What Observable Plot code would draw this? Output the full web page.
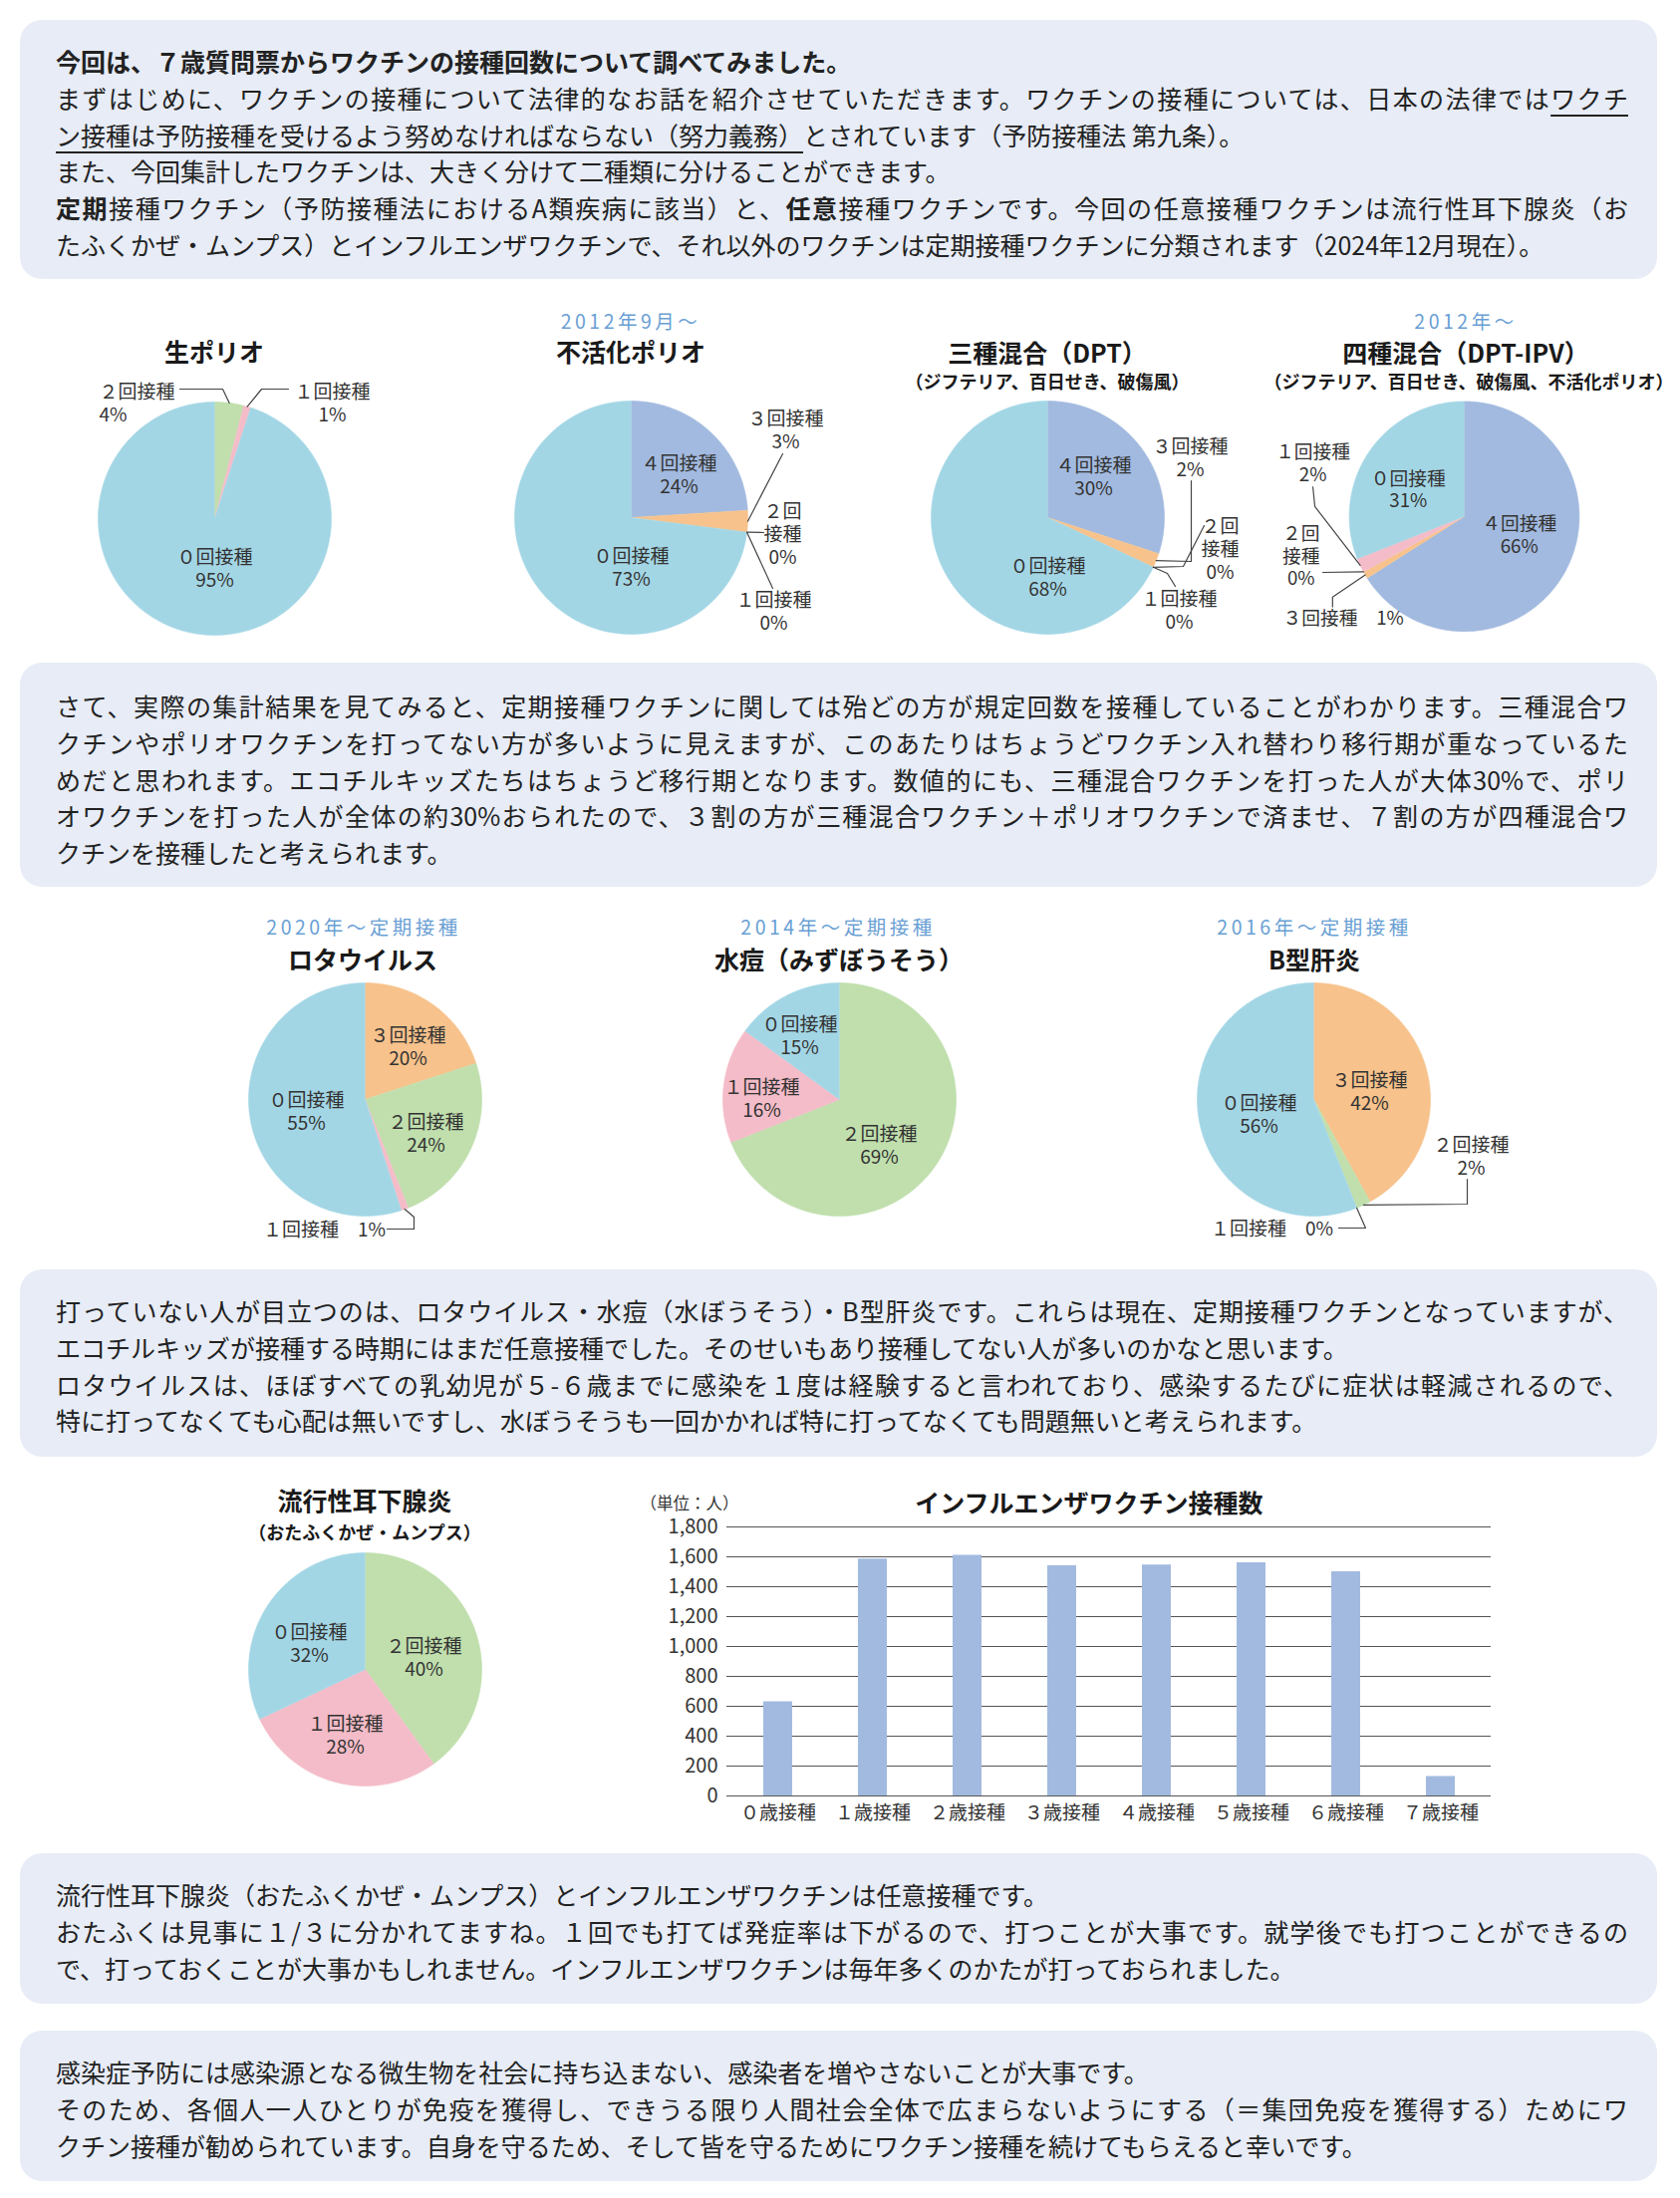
<!DOCTYPE html>
<html lang="ja"><head><meta charset="utf-8">
<script src="https://cdn.jsdelivr.net/npm/d3@7"></script>
<script src="https://cdn.jsdelivr.net/npm/@observablehq/plot@0.6"></script>
<style>
body{margin:0;background:#fff;font-family:"Noto Sans CJK JP","Noto Sans",sans-serif;color:#222;}
#page{position:relative;width:1686px;height:2206px;overflow:hidden;background:#fff;}
.box{position:absolute;left:20px;width:1643px;background:#e7ecf6;border-radius:22px;box-sizing:border-box;padding:23px 0 0 36px;font-size:25px;line-height:36.8px;}
.box .ln{width:1578px;}
.box .full{text-align:justify;text-align-last:justify;}
.ul{text-decoration:underline;text-underline-offset:6px;text-decoration-thickness:1.5px;}
.lbl{position:absolute;transform:translate(-50%,-50%);white-space:nowrap;line-height:1;}
.blue{color:#6a9fd4;font-size:19.5px;letter-spacing:3.5px;}
.ttl{font-weight:bold;font-size:25px;color:#1a1a1a;}
.sub{font-weight:bold;font-size:18px;color:#1a1a1a;}
.unit{font-size:16.5px;color:#333;}
.chart{position:absolute;}
.chart svg{display:block;}
</style></head>
<body><div id="page">
<div class="box" style="top:20px;height:260px;">
<div class="ln" style="font-weight:bold;">今回は、７歳質問票からワクチンの接種回数について調べてみました。</div>
<div class="ln full">まずはじめに、ワクチンの接種について法律的なお話を紹介させていただきます。ワクチンの接種については、日本の法律では<span class="ul">ワクチ</span></div>
<div class="ln"><span class="ul">ン接種は予防接種を受けるよう努めなければならない（努力義務）</span>とされています（予防接種法 第九条）。</div>
<div class="ln">また、今回集計したワクチンは、大きく分けて二種類に分けることができます。</div>
<div class="ln full"><b>定期</b>接種ワクチン（予防接種法におけるA類疾病に該当）と、<b>任意</b>接種ワクチンです。今回の任意接種ワクチンは流行性耳下腺炎（お</div>
<div class="ln">たふくかぜ・ムンプス）とインフルエンザワクチンで、それ以外のワクチンは定期接種ワクチンに分類されます（2024年12月現在）。</div>
</div>
<div class="box" style="top:665px;height:225px;padding-top:25px;">
<div class="ln full">さて、実際の集計結果を見てみると、定期接種ワクチンに関しては殆どの方が規定回数を接種していることがわかります。三種混合ワ</div>
<div class="ln full">クチンやポリオワクチンを打ってない方が多いように見えますが、このあたりはちょうどワクチン入れ替わり移行期が重なっているた</div>
<div class="ln full">めだと思われます。エコチルキッズたちはちょうど移行期となります。数値的にも、三種混合ワクチンを打った人が大体30%で、ポリ</div>
<div class="ln full">オワクチンを打った人が全体の約30%おられたので、３割の方が三種混合ワクチン＋ポリオワクチンで済ませ、７割の方が四種混合ワ</div>
<div class="ln">クチンを接種したと考えられます。</div>
</div>
<div class="box" style="top:1274px;height:188px;">
<div class="ln full">打っていない人が目立つのは、ロタウイルス・水痘（水ぼうそう）・B型肝炎です。これらは現在、定期接種ワクチンとなっていますが、</div>
<div class="ln">エコチルキッズが接種する時期にはまだ任意接種でした。そのせいもあり接種してない人が多いのかなと思います。</div>
<div class="ln full">ロタウイルスは、ほぼすべての乳幼児が５-６歳までに感染を１度は経験すると言われており、感染するたびに症状は軽減されるので、</div>
<div class="ln">特に打ってなくても心配は無いですし、水ぼうそうも一回かかれば特に打ってなくても問題無いと考えられます。</div>
</div>
<div class="box" style="top:1860px;height:151px;">
<div class="ln">流行性耳下腺炎（おたふくかぜ・ムンプス）とインフルエンザワクチンは任意接種です。</div>
<div class="ln full">おたふくは見事に１/３に分かれてますね。１回でも打てば発症率は下がるので、打つことが大事です。就学後でも打つことができるの</div>
<div class="ln">で、打っておくことが大事かもしれません。インフルエンザワクチンは毎年多くのかたが打っておられました。</div>
</div>
<div class="box" style="top:2038px;height:151px;">
<div class="ln">感染症予防には感染源となる微生物を社会に持ち込まない、感染者を増やさないことが大事です。</div>
<div class="ln full">そのため、各個人一人ひとりが免疫を獲得し、できうる限り人間社会全体で広まらないようにする（＝集団免疫を獲得する）ためにワ</div>
<div class="ln">クチン接種が勧められています。自身を守るため、そして皆を守るためにワクチン接種を続けてもらえると幸いです。</div>
</div>
</div>
<script>
// ===== DATA =====
const doseOrder = ["０回接種", "１回接種", "２回接種", "３回接種", "４回接種"];
const doseColors = ["#a3d6e5", "#f4bcc8", "#c0dfad", "#f7c28b", "#a2badf"];

const livePolioCats = ["２回接種", "１回接種", "０回接種"];
const livePolioVals = [4, 1, 95];

const ipvCats = ["４回接種", "３回接種", "２回接種", "１回接種", "０回接種"];
const ipvVals = [24, 3, 0, 0, 73];

const dptCats = ["４回接種", "３回接種", "２回接種", "１回接種", "０回接種"];
const dptVals = [30, 2, 0, 0, 68];

const dptIpvCats = ["４回接種", "３回接種", "２回接種", "１回接種", "０回接種"];
const dptIpvVals = [66, 1, 0, 2, 31];

const rotaCats = ["３回接種", "２回接種", "１回接種", "０回接種"];
const rotaVals = [20, 24, 1, 55];

const varicellaCats = ["２回接種", "１回接種", "０回接種"];
const varicellaVals = [69, 16, 15];

const hepBCats = ["３回接種", "２回接種", "１回接種", "０回接種"];
const hepBVals = [42, 2, 0, 56];

const mumpsCats = ["２回接種", "１回接種", "０回接種"];
const mumpsVals = [40, 28, 32];

const fluAges = ["０歳接種", "１歳接種", "２歳接種", "３歳接種", "４歳接種", "５歳接種", "６歳接種", "７歳接種"];
const fluCounts = [630, 1585, 1610, 1540, 1545, 1560, 1500, 130];
const fluTicks = [0, 200, 400, 600, 800, 1000, 1200, 1400, 1600, 1800];

// ===== LAYOUT =====
const page = document.getElementById("page");
const FONT = '"Noto Sans CJK JP", "Noto Sans", sans-serif';
const W = 440, H = 320, R = 117;

function place(text, cx, cy, cls) {
  const d = document.createElement("div");
  d.className = "lbl " + cls;
  d.textContent = text;
  d.style.left = cx + "px";
  d.style.top = cy + "px";
  page.appendChild(d);
}

function pieChart(cats, vals, cx, cy, hints) {
  const total = d3.sum(vals);
  let acc = 0;
  const slices = cats.map((cat, i) => {
    const a0 = acc / total * 2 * Math.PI; acc += vals[i];
    const a1 = acc / total * 2 * Math.PI;
    return {cat, value: vals[i], a0, a1, mid: (a0 + a1) / 2};
  });
  const polys = slices.filter(s => s.value > 0).flatMap(s => {
    const n = Math.max(2, Math.ceil((s.a1 - s.a0) * 180 / Math.PI));
    const pts = [{cat: s.cat, x: 0, y: 0}];
    for (let k = 0; k <= n; k++) {
      const a = s.a0 + (s.a1 - s.a0) * k / n;
      pts.push({cat: s.cat, x: R * Math.sin(a), y: -R * Math.cos(a)});
    }
    return pts;
  });
  const labels = slices.map(s => {
    const h = hints[s.cat] || {};
    const pct = s.value + "%";
    const text = h.split ? s.cat.slice(0, 2) + "\n" + s.cat.slice(2) + "\n" + pct
      : h.inline ? s.cat + "　" + pct : s.cat + "\n" + pct;
    return {text, x: h.dx ?? 0.5 * R * Math.sin(s.mid), y: h.dy ?? -0.5 * R * Math.cos(s.mid), anchor: h.anchor || "middle"};
  });
  const leaders = slices.filter(s => hints[s.cat] && hints[s.cat].leader).flatMap(s => [
    {id: s.cat, x: R * Math.sin(s.mid), y: -R * Math.cos(s.mid)},
    ...hints[s.cat].leader.map(([x, y]) => ({id: s.cat, x, y}))
  ]);
  const svg = Plot.plot({
    width: W, height: H, margin: 0,
    x: {domain: [-W / 2, W / 2], range: [0, W], axis: null},
    y: {domain: [-H / 2, H / 2], range: [0, H], axis: null},
    color: {domain: doseOrder, range: doseColors},
    style: {fontFamily: FONT, fontSize: "19px", background: "none", overflow: "visible", color: "#333"},
    marks: [
      Plot.line(polys, {x: "x", y: "y", z: "cat", fill: "cat", stroke: "cat", strokeWidth: 0.6}),
      Plot.line(leaders, {x: "x", y: "y", z: "id", stroke: "#444", strokeWidth: 1.2}),
      Plot.text(labels.filter(d => d.anchor === "middle"), {x: "x", y: "y", text: "text", fontSize: 19, lineHeight: 1.2, fill: "#333"}),
      Plot.text(labels.filter(d => d.anchor === "start"), {x: "x", y: "y", text: "text", fontSize: 19, lineHeight: 1.2, fill: "#333", textAnchor: "start"})
    ]
  });
  const wrap = document.createElement("div");
  wrap.className = "chart";
  wrap.style.left = (cx - W / 2) + "px";
  wrap.style.top = (cy - H / 2) + "px";
  wrap.appendChild(svg);
  page.appendChild(wrap);
}

// Row 1
place("生ポリオ", 215, 352, "ttl");
pieChart(livePolioCats, livePolioVals, 215, 520, {
  "２回接種": {dx: -116, dy: -116, anchor: "start", leader: [[8, -130], [-35, -130]]},
  "１回接種": {dx: 118, dy: -116, leader: [[47, -130], [74, -130]]},
  "０回接種": {dx: 0, dy: 50}
});
place("2012年9月～", 633, 322, "blue");
place("不活化ポリオ", 633, 352, "ttl");
pieChart(ipvCats, ipvVals, 633, 519, {
  "４回接種": {dx: 48, dy: -43},
  "３回接種": {dx: 155, dy: -88, leader: [[152, -64]]},
  "２回接種": {dx: 152, dy: 16, split: true, leader: [[133, 15]]},
  "１回接種": {dx: 143, dy: 94, leader: [[142, 71]]},
  "０回接種": {dx: 0, dy: 50}
});
place("三種混合（DPT）", 1051, 353, "ttl");
place("（ジフテリア、百日せき、破傷風）", 1051, 382, "sub");
pieChart(dptCats, dptVals, 1051, 519, {
  "４回接種": {dx: 46, dy: -41},
  "３回接種": {dx: 143, dy: -60, leader: [[144, 44], [144, -37]]},
  "２回接種": {dx: 173, dy: 31, split: true, leader: [[136, 49], [157, 8]]},
  "１回接種": {dx: 132, dy: 93, leader: [[120, 56], [128, 69]]},
  "０回接種": {dx: 0, dy: 60}
});
place("2012年～", 1471, 322, "blue");
place("四種混合（DPT-IPV）", 1471, 353, "ttl");
place("（ジフテリア、百日せき、破傷風、不活化ポリオ）", 1474, 382, "sub");
pieChart(dptIpvCats, dptIpvVals, 1472, 520, {
  "４回接種": {dx: 56, dy: 18},
  "３回接種": {dx: -123, dy: 103, inline: true, leader: [[-134, 82], [-134, 92]]},
  "２回接種": {dx: -166, dy: 40, split: true, leader: [[-144, 57]]},
  "１回接種": {dx: -154, dy: -55, leader: [[-152, -10], [-154, -30]]},
  "０回接種": {dx: -57, dy: -28}
});

// Row 2
place("2020年～定期接種", 365, 930, "blue");
place("ロタウイルス", 364, 962, "ttl");
pieChart(rotaCats, rotaVals, 366, 1103, {
  "３回接種": {dx: 43, dy: -53},
  "２回接種": {dx: 61, dy: 34},
  "１回接種": {dx: -41, dy: 130, inline: true, leader: [[49, 118], [49, 130], [22, 130]]},
  "０回接種": {dx: -59, dy: 12}
});
place("2014年～定期接種", 841, 930, "blue");
place("水痘（みずぼうそう）", 842, 962, "ttl");
pieChart(varicellaCats, varicellaVals, 842, 1103, {
  "２回接種": {dx: 40, dy: 46},
  "１回接種": {dx: -78, dy: -1},
  "０回接種": {dx: -40, dy: -64}
});
place("2016年～定期接種", 1319, 930, "blue");
place("B型肝炎", 1319, 962, "ttl");
pieChart(hepBCats, hepBVals, 1318, 1103, {
  "３回接種": {dx: 56, dy: -8},
  "２回接種": {dx: 158, dy: 57, leader: [[154, 105], [154, 80]]},
  "１回接種": {dx: -42, dy: 129, inline: true, leader: [[52, 129], [25, 129]]},
  "０回接種": {dx: -55, dy: 15}
});

// Row 3
place("流行性耳下腺炎", 366, 1505, "ttl");
place("（おたふくかぜ・ムンプス）", 366, 1537, "sub");
pieChart(mumpsCats, mumpsVals, 366, 1675, {
  "２回接種": {dx: 59, dy: -12},
  "１回接種": {dx: -20, dy: 66},
  "０回接種": {dx: -56, dy: -26}
});

place("インフルエンザワクチン接種数", 1093, 1507, "ttl");
place("（単位：人）", 692, 1508, "unit");
const fluData = fluAges.map((age, i) => ({age, n: fluCounts[i]}));
const bar = Plot.plot({
  width: 920, height: 360,
  marginLeft: 129, marginRight: 24, marginTop: 42, marginBottom: 48,
  x: {domain: fluAges, paddingInner: 0.7, paddingOuter: 0.35, label: null},
  y: {domain: [0, 1800], label: null},
  style: {fontFamily: FONT, fontSize: "19px", background: "none", overflow: "visible", color: "#333"},
  marks: [
    Plot.ruleY(fluTicks, {stroke: "#555", strokeWidth: 1.2}),
    Plot.barY(fluData, {x: "age", y: "n", fill: "#a2badf"}),
    Plot.ruleY([0], {stroke: "#555", strokeWidth: 1.2}),
    Plot.axisY({ticks: fluTicks, tickSize: 0, tickPadding: 9, tickFormat: d3.format(","), fontSize: 20, label: null}),
    Plot.axisX({tickSize: 0, tickPadding: 10, fontSize: 19, label: null})
  ]
});
const bw = document.createElement("div");
bw.className = "chart";
bw.style.left = "600px";
bw.style.top = "1490px";
bw.appendChild(bar);
page.appendChild(bw);
</script>
</body></html>
